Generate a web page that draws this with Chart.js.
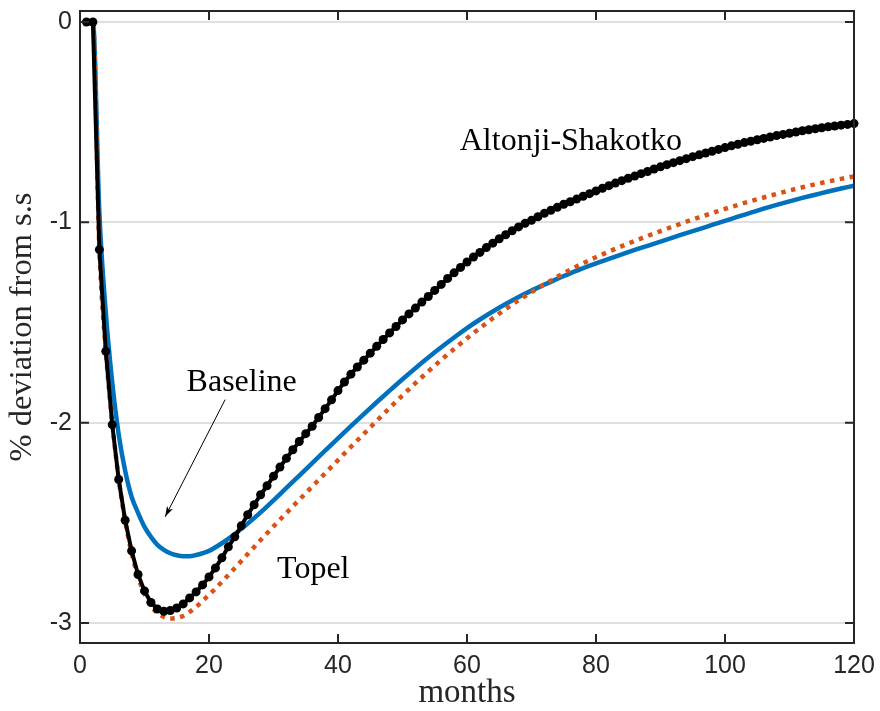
<!DOCTYPE html>
<html>
<head>
<meta charset="utf-8">
<script src="https://cdn.jsdelivr.net/npm/chart.js@4.4.1/dist/chart.umd.min.js"></script>
<style>
  html, body { margin: 0; padding: 0; background: #fff; }
  #wrap { width: 880px; height: 711px; }
</style>
</head>
<body>
<div id="wrap"><canvas id="irfChart" width="880" height="711"></canvas></div>
<script>
// horizon (months after the shock)
const months = Array.from({ length: 120 }, (_, i) => i + 1);

// Altonji-Shakotko: one marker per month
const altonjiShakotko = [
    0, 0, -1.136, -1.644, -2.01, -2.284, -2.487, -2.64, -2.758, -2.84,
    -2.898, -2.93, -2.942, -2.938, -2.925, -2.905, -2.875, -2.845, -2.81, -2.77,
    -2.725, -2.675, -2.62, -2.57, -2.515, -2.46, -2.41, -2.36, -2.315, -2.267,
    -2.222, -2.178, -2.135, -2.094, -2.055, -2.018, -1.974, -1.93, -1.886, -1.84,
    -1.797, -1.758, -1.722, -1.688, -1.653, -1.619, -1.585, -1.552, -1.52, -1.487,
    -1.457, -1.428, -1.398, -1.37, -1.34, -1.31, -1.28, -1.252, -1.225, -1.198,
    -1.173, -1.15, -1.126, -1.104, -1.082, -1.062, -1.042, -1.023, -1.005, -0.99,
    -0.972, -0.955, -0.94, -0.925, -0.91, -0.897, -0.884, -0.87, -0.857, -0.843,
    -0.83, -0.817, -0.804, -0.792, -0.78, -0.769, -0.757, -0.746, -0.734, -0.723,
    -0.712, -0.702, -0.692, -0.682, -0.672, -0.663, -0.654, -0.645, -0.636, -0.627,
    -0.618, -0.61, -0.602, -0.595, -0.588, -0.581, -0.574, -0.567, -0.561, -0.555,
    -0.549, -0.543, -0.538, -0.533, -0.528, -0.523, -0.519, -0.515, -0.511, -0.507
];

// Baseline (solid blue)
const baselineMonths = [1, 2, 3, 4, 5, 6, 7, 8, 9, 10, 11, 12, 13, 14, 15, 16, 17, 18, 19, 20,
    22, 24, 26, 28, 30, 32, 34, 36, 38, 40, 42, 44, 46, 48, 50, 52, 54, 56, 58, 60,
    62, 64, 66, 68, 70, 72, 74, 76, 78, 80, 82, 84, 86, 88, 90, 92, 94, 96, 98, 100,
    102, 104, 106, 108, 110, 112, 114, 116, 118, 120];
const baselineValues = [0, 0, -0.95, -1.45, -1.80, -2.06, -2.24, -2.37, -2.45, -2.52,
    -2.57, -2.61, -2.635, -2.652, -2.662, -2.667, -2.667, -2.661, -2.652, -2.64,
    -2.602, -2.556, -2.504, -2.448, -2.388, -2.326, -2.264, -2.202, -2.14, -2.078,
    -2.017, -1.957, -1.898, -1.84, -1.783, -1.728, -1.675, -1.624, -1.575, -1.528,
    -1.485, -1.445, -1.408, -1.373, -1.341, -1.311, -1.282, -1.255, -1.229, -1.205,
    -1.182, -1.16, -1.138, -1.117, -1.096, -1.075, -1.054, -1.034, -1.013, -0.993,
    -0.972, -0.952, -0.932, -0.913, -0.895, -0.878, -0.862, -0.846, -0.831, -0.817];

// Topel (dotted orange)
const topelMonths = [1, 2, 3, 4, 5, 6, 7, 8, 9, 10, 11, 12, 13, 14, 15, 16, 17, 18, 19, 20,
    22, 24, 26, 28, 30, 32, 34, 36, 38, 40, 42, 44, 46, 48, 50, 52, 54, 56, 58, 60,
    62, 64, 66, 68, 70, 72, 74, 76, 78, 80, 82, 84, 86, 88, 90, 92, 94, 96, 98, 100,
    102, 104, 106, 108, 110, 112, 114, 116, 118, 120];
const topelValues = [0, 0, -1.13, -1.64, -2.0, -2.28, -2.49, -2.65, -2.77, -2.855,
    -2.915, -2.95, -2.97, -2.978, -2.975, -2.965, -2.945, -2.92, -2.89, -2.86,
    -2.795, -2.726, -2.656, -2.586, -2.518, -2.451, -2.385, -2.319, -2.253, -2.187,
    -2.121, -2.056, -1.991, -1.927, -1.864, -1.803, -1.744, -1.687, -1.632, -1.579,
    -1.528, -1.479, -1.433, -1.389, -1.348, -1.309, -1.272, -1.237, -1.204, -1.174,
    -1.146, -1.119, -1.093, -1.068, -1.044, -1.02, -0.997, -0.975, -0.954, -0.933,
    -0.913, -0.894, -0.876, -0.858, -0.841, -0.825, -0.81, -0.796, -0.783, -0.771];

const xTickValues = [0, 20, 40, 60, 80, 100, 120];
const yTickValues = [-3, -2, -1, 0];

const axisColor = '#262626';
const serifFont = '"Liberation Serif", "Times New Roman", serif';
const sansFont = '"Liberation Sans", Arial, sans-serif';

function toPoints(xs, ys) {
    return xs.map((m, i) => ({ x: m, y: ys[i] }));
}

// box, inward ticks, text labels and the arrow (MATLAB look)
const frameAndNotes = {
    id: 'frameAndNotes',
    afterDraw(chart) {
        const { ctx, chartArea: a, scales: { x, y } } = chart;
        ctx.save();

        // series labels (data coordinates)
        const notes = [
            { text: 'Altonji-Shakotko', x: 76.1, y: -0.637 },
            { text: 'Baseline', x: 25.07, y: -1.843 },
            { text: 'Topel', x: 36.17, y: -2.778 }
        ];
        ctx.fillStyle = '#000';
        ctx.font = '32px ' + serifFont;
        ctx.textAlign = 'center';
        ctx.textBaseline = 'alphabetic';
        notes.forEach(n => ctx.fillText(n.text, x.getPixelForValue(n.x), y.getPixelForValue(n.y)));

        // arrow from "Baseline" to the blue curve
        const x0 = x.getPixelForValue(22.5), y0 = y.getPixelForValue(-1.885);
        const x1 = x.getPixelForValue(13.2), y1 = y.getPixelForValue(-2.47);
        const ang = Math.atan2(y1 - y0, x1 - x0);
        ctx.strokeStyle = '#000';
        ctx.lineWidth = 1;
        ctx.beginPath();
        ctx.moveTo(x0, y0);
        ctx.lineTo(x1, y1);
        ctx.stroke();
        ctx.beginPath();
        ctx.moveTo(x1, y1);
        ctx.lineTo(x1 - 11 * Math.cos(ang - 0.3), y1 - 11 * Math.sin(ang - 0.3));
        ctx.lineTo(x1 - 8 * Math.cos(ang), y1 - 8 * Math.sin(ang));
        ctx.lineTo(x1 - 11 * Math.cos(ang + 0.3), y1 - 11 * Math.sin(ang + 0.3));
        ctx.closePath();
        ctx.fillStyle = '#000';
        ctx.fill();

        // axes box
        ctx.strokeStyle = axisColor;
        ctx.lineWidth = 2;
        ctx.strokeRect(a.left, a.top, a.right - a.left, a.bottom - a.top);

        // ticks pointing inward on all four sides
        const tl = 9;
        ctx.beginPath();
        xTickValues.forEach(v => {
            const px = x.getPixelForValue(v);
            ctx.moveTo(px, a.bottom); ctx.lineTo(px, a.bottom - tl);
            ctx.moveTo(px, a.top); ctx.lineTo(px, a.top + tl);
        });
        yTickValues.forEach(v => {
            const py = y.getPixelForValue(v);
            ctx.moveTo(a.left, py); ctx.lineTo(a.left + tl, py);
            ctx.moveTo(a.right, py); ctx.lineTo(a.right - tl, py);
        });
        ctx.stroke();
        ctx.restore();
    }
};

new Chart(document.getElementById('irfChart'), {
    type: 'line',
    data: {
        datasets: [
            {
                label: 'Altonji-Shakotko',
                data: toPoints(months, altonjiShakotko),
                borderColor: '#000',
                borderWidth: 4,
                pointRadius: 4.5,
                pointBackgroundColor: '#000',
                pointBorderWidth: 0,
                tension: 0,
                clip: false,
                order: 1
            },
            {
                label: 'Topel',
                data: toPoints(topelMonths, topelValues),
                borderColor: '#D95319',
                borderWidth: 4.5,
                borderDash: [4.5, 5.5],
                borderCapStyle: 'butt',
                pointRadius: 0,
                cubicInterpolationMode: 'monotone',
                clip: false,
                order: 2
            },
            {
                label: 'Baseline',
                data: toPoints(baselineMonths, baselineValues),
                borderColor: '#0072BD',
                borderWidth: 4.5,
                pointRadius: 0,
                cubicInterpolationMode: 'monotone',
                clip: false,
                order: 3
            }
        ]
    },
    options: {
        responsive: false,
        animation: false,
        devicePixelRatio: 1,
        layout: { padding: { top: 11, right: 26, left: 0, bottom: 0 } },
        plugins: {
            legend: { display: false },
            tooltip: { enabled: false }
        },
        scales: {
            x: {
                type: 'linear',
                min: 0,
                max: 120,
                afterBuildTicks: scale => { scale.ticks = xTickValues.map(v => ({ value: v })); },
                afterFit: scale => {
                    scale.height = 68;
                    scale.paddingLeft = 0;
                    scale.paddingRight = 0;
                },
                grid: { display: false, drawTicks: false },
                border: { display: false },
                ticks: {
                    color: axisColor,
                    font: { family: sansFont, size: 25 },
                    padding: 8,
                    maxRotation: 0,
                    callback: v => String(v)
                },
                title: {
                    display: true,
                    text: 'months',
                    color: axisColor,
                    font: { family: serifFont, size: 33, lineHeight: 1.1 },
                    padding: { top: 0, bottom: 0 }
                }
            },
            y: {
                type: 'linear',
                min: -3.1,
                max: 0.055,
                afterBuildTicks: scale => { scale.ticks = yTickValues.map(v => ({ value: v })); },
                afterFit: scale => {
                    scale.width = 80;
                    scale.paddingTop = 0;
                    scale.paddingBottom = 0;
                },
                grid: { color: '#dfdfdf', lineWidth: 2, drawTicks: false },
                border: { display: false },
                ticks: {
                    color: axisColor,
                    font: { family: sansFont, size: 25 },
                    padding: 8,
                    callback: v => String(v)
                },
                title: {
                    display: true,
                    text: '% deviation from s.s',
                    color: axisColor,
                    font: { family: serifFont, size: 32.5 },
                    padding: { top: 3, bottom: 0 }
                }
            }
        }
    },
    plugins: [frameAndNotes]
});
</script>
</body>
</html>
